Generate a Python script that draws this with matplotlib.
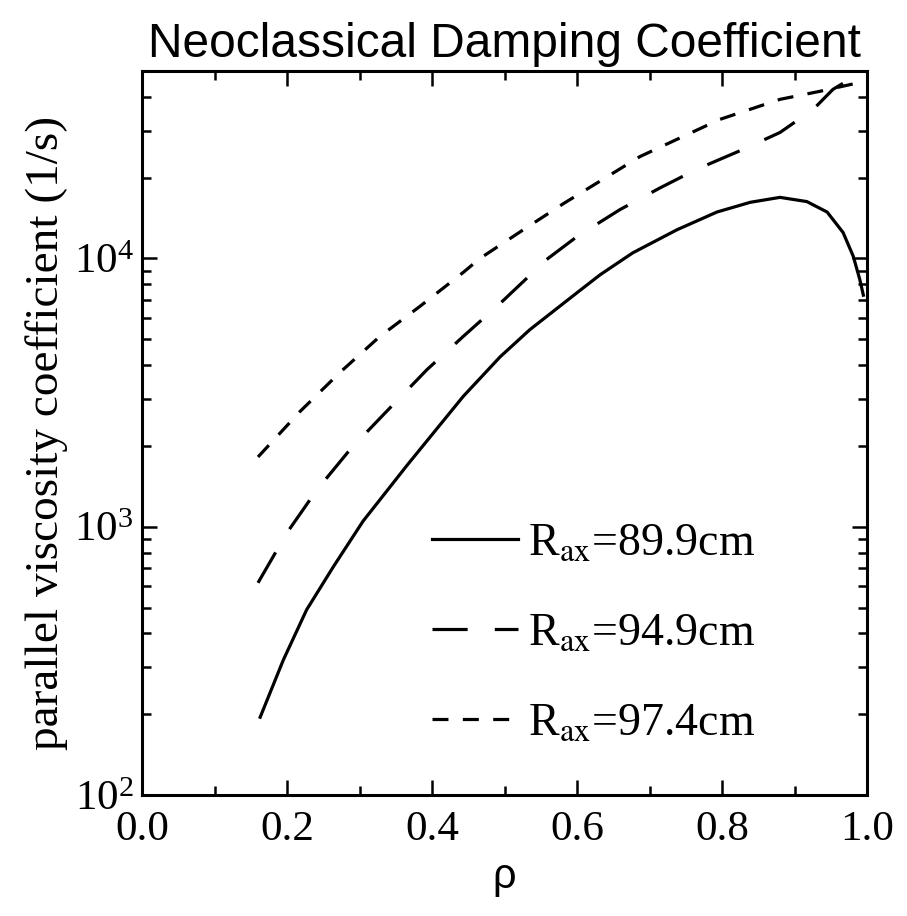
import matplotlib
matplotlib.use("Agg")
import matplotlib.pyplot as plt
from matplotlib.ticker import LogLocator, MultipleLocator, LogFormatterMathtext

plt.rcParams['mathtext.fontset'] = 'stix'

# R_ax = 89.9 cm (solid)
rho_a = [0.163, 0.195, 0.227, 0.264, 0.305, 0.366, 0.443, 0.494, 0.535, 0.604,
         0.632, 0.677, 0.738, 0.793, 0.839, 0.880, 0.917, 0.945, 0.967, 0.981,
         0.990, 0.995]
nu_a = [195, 319, 490, 710, 1050, 1700, 3060, 4300, 5430, 7600,
        8700, 10500, 12800, 14900, 16200, 16900, 16300, 14900, 12500, 10200,
        8360, 7300]

# R_ax = 94.9 cm (long dash)
rho_b = [0.160, 0.200, 0.241, 0.287, 0.332, 0.393, 0.443, 0.494, 0.558, 0.600,
         0.659, 0.714, 0.765, 0.829, 0.880, 0.926, 0.953, 0.967]
nu_b = [618, 950, 1370, 1940, 2600, 3850, 5120, 6800, 9910, 12070,
        15200, 18300, 21500, 25500, 29500, 36000, 42700, 45000]

# R_ax = 97.4 cm (short dash)
rho_c = [0.160, 0.218, 0.273, 0.328, 0.383, 0.443, 0.466, 0.526, 0.581, 0.687,
         0.797, 0.880, 0.935, 0.972, 0.985]
nu_c = [1820, 2690, 3760, 5120, 6620, 8870, 10000, 12800, 16000, 24000,
        33000, 39200, 42000, 44200, 45000]

labels = [r'R$_{\rm ax}$=89.9cm', r'R$_{\rm ax}$=94.9cm', r'R$_{\rm ax}$=97.4cm']

fig = plt.figure(figsize=(9.07, 9.16), dpi=100)
ax = fig.add_axes([142/907, 1-795/916, 725/907, 724/916])

lw = 2.3
ax.plot(rho_a, nu_a, color='black', lw=lw, label=labels[0])
ax.plot(rho_b, nu_b, color='black', lw=lw, dashes=(11, 8.5), label=labels[1])
ax.plot(rho_c, nu_c, color='black', lw=lw, dashes=(5, 4.5), label=labels[2])

ax.set_yscale('log')
ax.set_xlim(0, 1.0)
ax.set_ylim(100, 5e4)
ax.xaxis.set_major_locator(MultipleLocator(0.2))
ax.xaxis.set_minor_locator(MultipleLocator(0.1))
ax.yaxis.set_major_locator(LogLocator(base=10))
ax.yaxis.set_minor_locator(LogLocator(base=10, subs=range(2, 10)))
ax.yaxis.set_major_formatter(LogFormatterMathtext())
ax.xaxis.set_major_formatter(plt.FuncFormatter(lambda v, p: f'{v:.1f}'))

for s in ax.spines.values():
    s.set_linewidth(2.2)
ax.tick_params(which='both', direction='in', top=True, right=True, width=1.8)
ax.tick_params(which='major', length=11, labelsize=31)
ax.tick_params(which='minor', length=6.5)
ax.tick_params(axis='x', which='major', pad=11)
ax.tick_params(axis='y', which='major', pad=6)
for t in ax.get_xticklabels() + ax.get_yticklabels():
    t.set_fontfamily('Liberation Serif')

ax.set_ylabel('parallel viscosity coefficient (1/s)', fontsize=34,
              fontfamily='Liberation Serif', labelpad=4)
ax.set_xlabel('ρ', fontsize=30, fontfamily='Liberation Sans', labelpad=6)
ax.set_title('Neoclassical Damping Coefficient', fontsize=34.5,
             fontfamily='Liberation Sans', pad=10)

leg = ax.legend(loc='upper left', bbox_to_anchor=(0.4, 0.376), frameon=False,
                prop={'family': 'Liberation Serif', 'size': 33},
                borderpad=0, borderaxespad=0,
                handlelength=1.88, handletextpad=0.22, labelspacing=1.03)

fig.savefig('out.png', dpi=100)
